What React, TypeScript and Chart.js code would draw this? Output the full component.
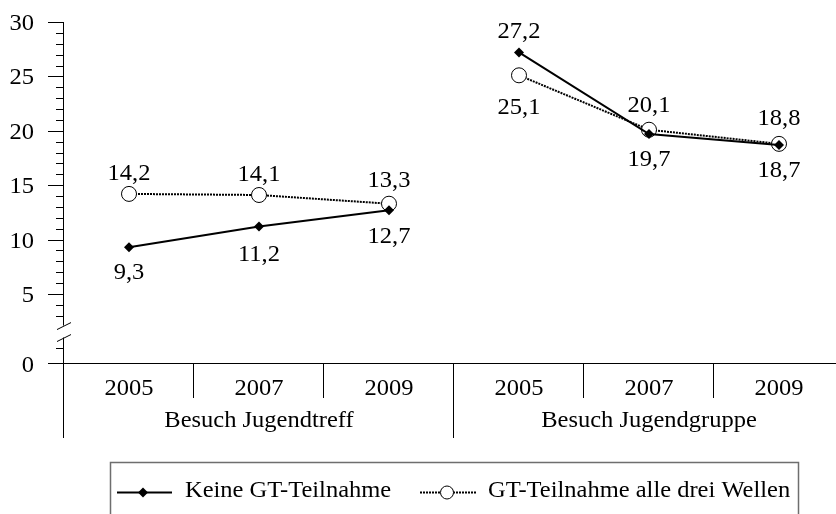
import { useEffect, useRef } from 'react';
import { Chart, registerables } from 'chart.js';

Chart.register(...registerables);

// ---- data ----
const categories = ['2005', '2007', '2009', '2005', '2007', '2009'];
const groups = ['Besuch Jugendtreff', 'Besuch Jugendgruppe'];
const seriesNames = ['Keine GT-Teilnahme', 'GT-Teilnahme alle drei Wellen'];
const keineGT = [9.3, 11.2, 12.7, 27.2, 19.7, 18.7];
const gtAlle = [14.2, 14.1, 13.3, 25.1, 20.1, 18.8];
const yTickLabels = [5, 10, 15, 20, 25, 30];
const yMinorTicks = [0, 3, 4, 6, 7, 8, 9, 11, 12, 13, 14, 16, 17, 18, 19, 21, 22, 23, 24, 26, 27, 28, 29];
const zeroLabel = '0';

// label offsets in px from the point (style, not data)
const keineLabelOffset = [24, 26, 25, -22, 24, 24];
const gtLabelOffset = [-22, -22, -25, 31, -26, -27];

const FONT = '"Liberation Serif", "Times New Roman", serif';
const FS = 23;
const XSTRETCH = 1.065;
const Y_MIN = -1.34; // broken axis bottom, labelled "0"

const fmt = (v: number) => v.toFixed(1).replace('.', ',');

function text(ctx: CanvasRenderingContext2D, s: string, x: number, y: number, align: CanvasTextAlign) {
  ctx.save();
  ctx.font = `${FS}px ${FONT}`;
  ctx.textAlign = align;
  ctx.textBaseline = 'alphabetic';
  ctx.fillStyle = '#000';
  ctx.translate(x, y);
  ctx.scale(XSTRETCH, 1);
  ctx.fillText(s, 0, 0);
  ctx.restore();
}

const axesPlugin = {
  id: 'customAxes',
  beforeDatasetsDraw(chart: any) {
    const { ctx, chartArea, scales } = chart;
    const x = scales.x;
    const y = scales.y;
    const axX = chartArea.left - 0.5;
    const baseY = Math.round(y.getPixelForValue(Y_MIN)) + 0.5;
    ctx.save();
    ctx.strokeStyle = '#000';
    ctx.lineWidth = 1;
    ctx.beginPath();
    ctx.moveTo(axX, y.getPixelForValue(30));
    ctx.lineTo(axX, 438);
    ctx.stroke();
    yTickLabels.forEach((v) => {
      const py = Math.round(y.getPixelForValue(v)) + 0.5;
      ctx.beginPath();
      ctx.moveTo(48, py);
      ctx.lineTo(axX, py);
      ctx.stroke();
    });
    yMinorTicks.forEach((v) => {
      const py = Math.round(y.getPixelForValue(v)) + 0.5;
      ctx.beginPath();
      ctx.moveTo(56, py);
      ctx.lineTo(axX, py);
      ctx.stroke();
    });
    ctx.beginPath();
    ctx.moveTo(48, baseY);
    ctx.lineTo(chart.width, baseY);
    ctx.stroke();
    // axis break
    const s1 = y.getPixelForValue(2.1);
    const s2 = y.getPixelForValue(1.0);
    ctx.fillStyle = '#fff';
    ctx.fillRect(axX - 2, s1, 4, s2 - s1);
    ctx.beginPath();
    ctx.moveTo(57, s1 + 4);
    ctx.lineTo(71, s1 - 3);
    ctx.moveTo(57, s2 + 4);
    ctx.lineTo(71, s2 - 3);
    ctx.stroke();
    // category separators
    for (let i = 0; i <= categories.length; i++) {
      const px = Math.round(x.getPixelForValue(i - 0.5)) - 0.5;
      const isGroup = i % 3 === 0;
      ctx.beginPath();
      ctx.moveTo(px, baseY);
      ctx.lineTo(px, isGroup ? 438 : 398);
      ctx.stroke();
    }
    ctx.restore();
    yTickLabels.forEach((v) => text(ctx, String(v), 34, y.getPixelForValue(v) + 8, 'right'));
    text(ctx, zeroLabel, 34, baseY + 8, 'right');
    categories.forEach((c, i) => text(ctx, c, x.getPixelForValue(i), 395, 'center'));
    groups.forEach((g, gi) => text(ctx, g, x.getPixelForValue(gi * 3 + 1), 427, 'center'));
  },
};

const labelsPlugin = {
  id: 'valueLabels',
  afterDatasetsDraw(chart: any) {
    const { ctx, scales } = chart;
    const x = scales.x;
    const y = scales.y;
    const draw = (vals: number[], offs: number[]) => {
      vals.forEach((v, i) => {
        const px = x.getPixelForValue(i);
        const py = y.getPixelForValue(v);
        text(ctx, fmt(v), px, py + offs[i] + 8, 'center');
      });
    };
    draw(keineGT, keineLabelOffset);
    draw(gtAlle, gtLabelOffset);
  },
};

const legendPlugin = {
  id: 'boxLegend',
  afterDraw(chart: any) {
    const { ctx } = chart;
    ctx.save();
    ctx.strokeStyle = '#6e6e6e';
    ctx.lineWidth = 1.5;
    ctx.strokeRect(110.5, 462.5, 688, 60);
    const ly = 492.5;
    ctx.strokeStyle = '#000';
    ctx.lineWidth = 2;
    ctx.setLineDash([]);
    ctx.beginPath();
    ctx.moveTo(117, ly);
    ctx.lineTo(172, ly);
    ctx.stroke();
    ctx.fillStyle = '#000';
    ctx.beginPath();
    ctx.moveTo(143, ly - 5);
    ctx.lineTo(148, ly);
    ctx.lineTo(143, ly + 5);
    ctx.lineTo(138, ly);
    ctx.closePath();
    ctx.fill();
    ctx.setLineDash([2, 1]);
    ctx.beginPath();
    ctx.moveTo(420, ly);
    ctx.lineTo(477, ly);
    ctx.stroke();
    ctx.setLineDash([]);
    ctx.lineWidth = 1;
    ctx.fillStyle = '#fff';
    ctx.beginPath();
    ctx.arc(447, ly, 6.5, 0, Math.PI * 2);
    ctx.fill();
    ctx.stroke();
    ctx.restore();
    text(ctx, seriesNames[0], 185, 497, 'left');
    text(ctx, seriesNames[1], 488, 497, 'left');
  },
};

export default function App() {
  const ref = useRef<HTMLCanvasElement>(null);
  useEffect(() => {
    const hideGap = (ctx: any, color: string) =>
      ctx.p0DataIndex === 2 ? 'rgba(0,0,0,0)' : color;
    const chart = new Chart(ref.current as HTMLCanvasElement, {
      type: 'line',
      data: {
        datasets: [
          {
            label: seriesNames[0],
            data: keineGT.map((v, i) => ({ x: i, y: v })),
            borderColor: '#000',
            borderWidth: 2,
            pointStyle: 'rectRot',
            pointRadius: 5,
            pointBackgroundColor: '#000',
            pointBorderColor: '#000',
            pointBorderWidth: 0,
            tension: 0,
            segment: { borderColor: (c: any) => hideGap(c, '#000') },
          },
          {
            label: seriesNames[1],
            data: gtAlle.map((v, i) => ({ x: i, y: v })),
            borderColor: '#000',
            borderWidth: 2,
            borderDash: [2, 1],
            pointStyle: 'circle',
            pointRadius: 7.5,
            pointBackgroundColor: '#fff',
            pointBorderColor: '#000',
            pointBorderWidth: 1,
            tension: 0,
            segment: { borderColor: (c: any) => hideGap(c, '#000') },
          },
        ],
      },
      options: {
        animation: false,
        responsive: false,
        maintainAspectRatio: false,
        layout: { autoPadding: false, padding: { left: 64, top: 22, right: 0, bottom: 151 } },
        scales: {
          x: { type: 'linear', min: -0.5, max: -0.5 + (836 - 64) / 130, display: false },
          y: { type: 'linear', min: Y_MIN, max: 30, display: false },
        },
        plugins: { legend: { display: false }, tooltip: { enabled: false } },
      },
      plugins: [axesPlugin, labelsPlugin, legendPlugin],
    } as any);
    return () => chart.destroy();
  }, []);
  return (
    <div style={{ position: 'fixed', left: 0, top: 0, width: 836, height: 514, background: '#fff' }}>
      <canvas ref={ref} width={836} height={514} style={{ display: 'block', width: 836, height: 514 }} />
    </div>
  );
}
